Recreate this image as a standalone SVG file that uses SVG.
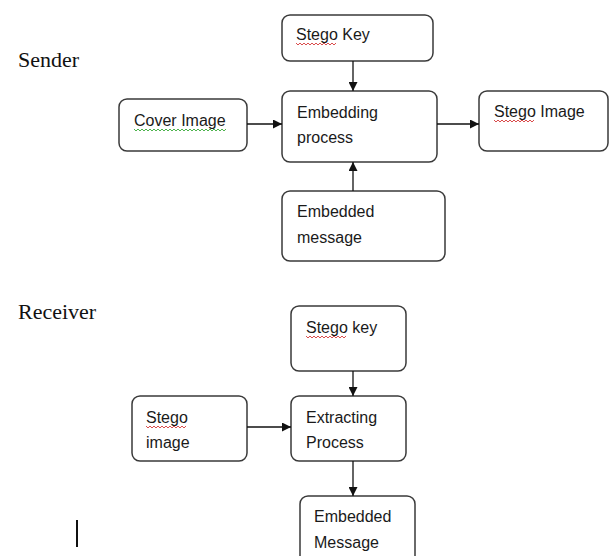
<svg xmlns="http://www.w3.org/2000/svg" width="611" height="556" viewBox="0 0 611 556">
<style>
.box{fill:#fff;stroke:#3a3a3a;stroke-width:1.5}
.t{font-family:"Liberation Sans",Arial,sans-serif;font-size:16px;fill:#1a1a1a}
.h{font-family:"Liberation Serif","Times New Roman",serif;font-size:22px;fill:#111}
.c{stroke:#111;stroke-width:1.3;fill:none}
.sq{fill:none;stroke:#d02020;stroke-width:0.8}
.sg{fill:none;stroke:#20a020;stroke-width:0.8}
</style>
<defs>
<marker id="a" viewBox="0 0 10 10" refX="10" refY="5" markerWidth="9" markerHeight="9" orient="auto" markerUnits="userSpaceOnUse">
<path d="M0,0 L10,5 L0,10 z" fill="#111"/>
</marker>
</defs>
<rect width="611" height="556" fill="#fff"/>
<text class="h" x="18" y="67">Sender</text>
<text class="h" x="18" y="319">Receiver</text>

<g id="s-key"><rect class="box" x="282" y="15" width="151" height="46" rx="8"/><text class="t" x="296" y="40">Stego Key</text><path class="sq" d="M296,43 l2,2 l2,-2 l2,2 l2,-2 l2,2 l2,-2 l2,2 l2,-2 l2,2 l2,-2 l2,2 l2,-2 l2,2 l2,-2 l2,2 l2,-2 l2,2 l2,-2 l2,2 l2,-2"/></g>
<g id="s-cover"><rect class="box" x="119" y="99" width="128" height="52" rx="8"/><text class="t" x="134" y="126">Cover  Image</text><path class="sg" d="M134,129 l2,2 l2,-2 l2,2 l2,-2 l2,2 l2,-2 l2,2 l2,-2 l2,2 l2,-2 l2,2 l2,-2 l2,2 l2,-2 l2,2 l2,-2 l2,2 l2,-2 l2,2 l2,-2 l2,2 l2,-2 l2,2 l2,-2 l2,2 l2,-2 l2,2 l2,-2 l2,2 l2,-2 l2,2 l2,-2 l2,2 l2,-2 l2,2 l2,-2 l2,2 l2,-2 l2,2 l2,-2 l2,2 l2,-2 l2,2 l2,-2 l2,2 l2,-2"/></g>
<g id="s-embed"><rect class="box" x="282" y="91" width="155" height="71" rx="8"/><text class="t" x="297" y="118">Embedding</text><text class="t" x="297" y="143">process</text></g>
<g id="s-stego"><rect class="box" x="479" y="91" width="129" height="60" rx="8"/><text class="t" x="494" y="117">Stego Image</text><path class="sq" d="M494,120 l2,2 l2,-2 l2,2 l2,-2 l2,2 l2,-2 l2,2 l2,-2 l2,2 l2,-2 l2,2 l2,-2 l2,2 l2,-2 l2,2 l2,-2 l2,2 l2,-2 l2,2 l2,-2"/></g>
<g id="s-msg"><rect class="box" x="282" y="191" width="163" height="70" rx="8"/><text class="t" x="297" y="217">Embedded</text><text class="t" x="297" y="243">message</text></g>

<g id="r-key"><rect class="box" x="291" y="306" width="115" height="65" rx="8"/><text class="t" x="306" y="333">Stego key</text><path class="sq" d="M306,336 l2,2 l2,-2 l2,2 l2,-2 l2,2 l2,-2 l2,2 l2,-2 l2,2 l2,-2 l2,2 l2,-2 l2,2 l2,-2 l2,2 l2,-2 l2,2 l2,-2 l2,2 l2,-2"/></g>
<g id="r-stego"><rect class="box" x="132" y="396" width="115" height="65" rx="8"/><text class="t" x="146" y="423">Stego</text><text class="t" x="146" y="448">image</text><path class="sq" d="M146,426 l2,2 l2,-2 l2,2 l2,-2 l2,2 l2,-2 l2,2 l2,-2 l2,2 l2,-2 l2,2 l2,-2 l2,2 l2,-2 l2,2 l2,-2 l2,2 l2,-2 l2,2 l2,-2"/></g>
<g id="r-extract"><rect class="box" x="291" y="396" width="115" height="65" rx="8"/><text class="t" x="306" y="423">Extracting</text><text class="t" x="306" y="448">Process</text></g>
<g id="r-msg"><rect class="box" x="300" y="496" width="115" height="70" rx="8"/><text class="t" x="314" y="522">Embedded</text><text class="t" x="314" y="548">Message</text></g>

<g id="connectors">
<line class="c" x1="353" y1="61" x2="353" y2="91" marker-end="url(#a)"/>
<line class="c" x1="247" y1="124" x2="282" y2="124" marker-end="url(#a)"/>
<line class="c" x1="437" y1="124" x2="479" y2="124" marker-end="url(#a)"/>
<line class="c" x1="353" y1="191" x2="353" y2="162" marker-end="url(#a)"/>
<line class="c" x1="353" y1="371" x2="353" y2="396" marker-end="url(#a)"/>
<line class="c" x1="247" y1="427" x2="291" y2="427" marker-end="url(#a)"/>
<line class="c" x1="353" y1="461" x2="353" y2="496" marker-end="url(#a)"/>
</g>
<line x1="77" y1="520" x2="77" y2="547" stroke="#111" stroke-width="2"/>
</svg>
